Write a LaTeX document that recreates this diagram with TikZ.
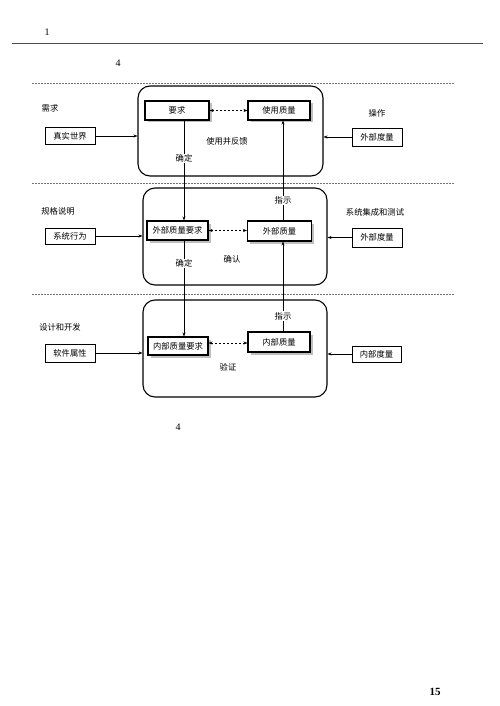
\documentclass[tikz,border=0pt]{standalone}
\usepackage{fontspec}
\setmainfont{Liberation Serif}
\newfontfamily\cjk{Noto Sans CJK SC}
\usetikzlibrary{arrows.meta,shadows,calc}
\begin{document}
\begin{tikzpicture}[x=1pt,y=-1pt,
  txt/.style={font=\cjk\fontsize{8.3}{9}\selectfont, inner sep=1pt},
  lbl/.style={txt, fill=white},
  inbox/.style={txt, draw, line width=1.1pt, minimum height=19pt, fill=white,
     general shadow={fill=black!25, shadow xshift=2.5pt, shadow yshift=-2.5pt}},
  outbox/.style={txt, draw, line width=0.9pt, minimum width=50pt, minimum height=17pt},
  bigbox/.style={draw, line width=1.1pt, rounded corners=12pt},
  sep/.style={black!55, line width=0.5pt, dash pattern=on 1.5pt off 1.5pt},
  arr/.style={line width=0.5pt, -{Stealth[length=4pt,width=3pt]}},
  darr/.style={line width=0.5pt, dash pattern=on 2pt off 2pt, {Stealth[length=4pt,width=3pt]}-{Stealth[length=4pt,width=3pt]}},
  num/.style={font=\fontsize{10}{12}\selectfont, inner sep=0pt}
]
\useasboundingbox (0,0) rectangle (499,706);

% header
\node[num] (n1) at (47,32) {1};
\draw[black!70, line width=0.9pt] (12,43) -- (483,43);
\node[num] (n4a) at (118,63) {4};

% separators
\draw[sep] (32,83) -- (455,83);
\draw[sep] (32,183) -- (455,183);
\draw[sep] (32,294) -- (455,294);

% big boxes
\node[bigbox, minimum width=185pt, minimum height=90pt] (big1) at (230.5,131) {};
\node[bigbox, minimum width=184pt, minimum height=97pt] (big2) at (235,236.5) {};
\node[bigbox, minimum width=184pt, minimum height=97pt] (big3) at (235,348.5) {};

% guide coordinates for vertical lines
\coordinate (lx) at (184,0);
\coordinate (rx) at (283,0);

% section 1
\node[inbox, minimum width=64pt] (req) at (177,110.5) {要求};
\node[inbox, minimum width=62pt] (uq) at (279,110.5) {使用质量};
\node[outbox] (rw) at (70,136) {真实世界};
\node[outbox, minimum height=18pt] (em1) at (377,137) {外部度量};
\node[txt] (l1) at (50,108) {需求};
\node[txt] (l2) at (377,113) {操作};
\node[txt] (l3) at (227,141) {使用并反馈};

% section 2
\node[inbox, minimum width=61pt] (eqr) at (177.5,230.5) {外部质量要求};
\node[inbox, minimum width=64pt, minimum height=20pt] (eq) at (279.5,231) {外部质量};
\node[outbox, minimum height=16pt] (sb) at (70,236) {系统行为};
\node[outbox, minimum height=19pt] (em2) at (377,237.5) {外部度量};
\node[txt] (l4) at (58,211) {规格说明};
\node[txt] (l5) at (375,212) {系统集成和测试};
\node[txt] (l6) at (232,259) {确认};

% section 3
\node[inbox, minimum width=60pt, minimum height=18pt] (iqr) at (178,346) {内部质量要求};
\node[inbox, minimum width=62pt, minimum height=20pt] (iq) at (279,342) {内部质量};
\node[outbox, minimum height=18pt] (sp) at (70,353) {软件属性};
\node[outbox, minimum width=49pt, minimum height=16pt] (im) at (376.5,354) {内部度量};
\node[txt] (l7) at (60,327) {设计和开发};
\node[txt] (l8) at (228,367) {验证};

% bottom numbers
\node[num] (n4b) at (178,427) {4};
\node[num, font=\bfseries\fontsize{11}{13}\selectfont] (n15) at (435,692) {15};

% horizontal connectors
\draw[arr] (rw.east) -- (big1.west |- rw.east);
\draw[arr] (em1.west) -- (big1.east |- em1.west);
\draw[arr] (sb.east) -- (big2.west |- sb.east);
\draw[arr] (em2.west) -- (big2.east |- em2.west);
\draw[arr] (sp.east) -- (big3.west |- sp.east);
\draw[arr] (im.west) -- (big3.east |- im.west);

% dashed bidirectional
\draw[darr] (req.east) -- (uq.west |- req.east);
\draw[darr] (eqr.east) -- (eq.west |- eqr.east);
\draw[darr] (iqr.east |- 0,343) -- (iq.west |- 0,343);

% vertical connectors
\draw[arr] (req.south -| lx) -- node[lbl, pos=0.38] (d1) {确定} (eqr.north -| lx);
\draw[arr] (eqr.south -| lx) -- node[lbl, pos=0.24] (d2) {确定} (iqr.north -| lx);
\draw[arr] (eq.north -| rx) -- node[lbl, pos=0.2] (z1) {指示} (uq.south -| rx);
\draw[arr] (iq.north -| rx) -- node[lbl, pos=0.17] (z2) {指示} (eq.south -| rx);
\end{tikzpicture}
\end{document}
